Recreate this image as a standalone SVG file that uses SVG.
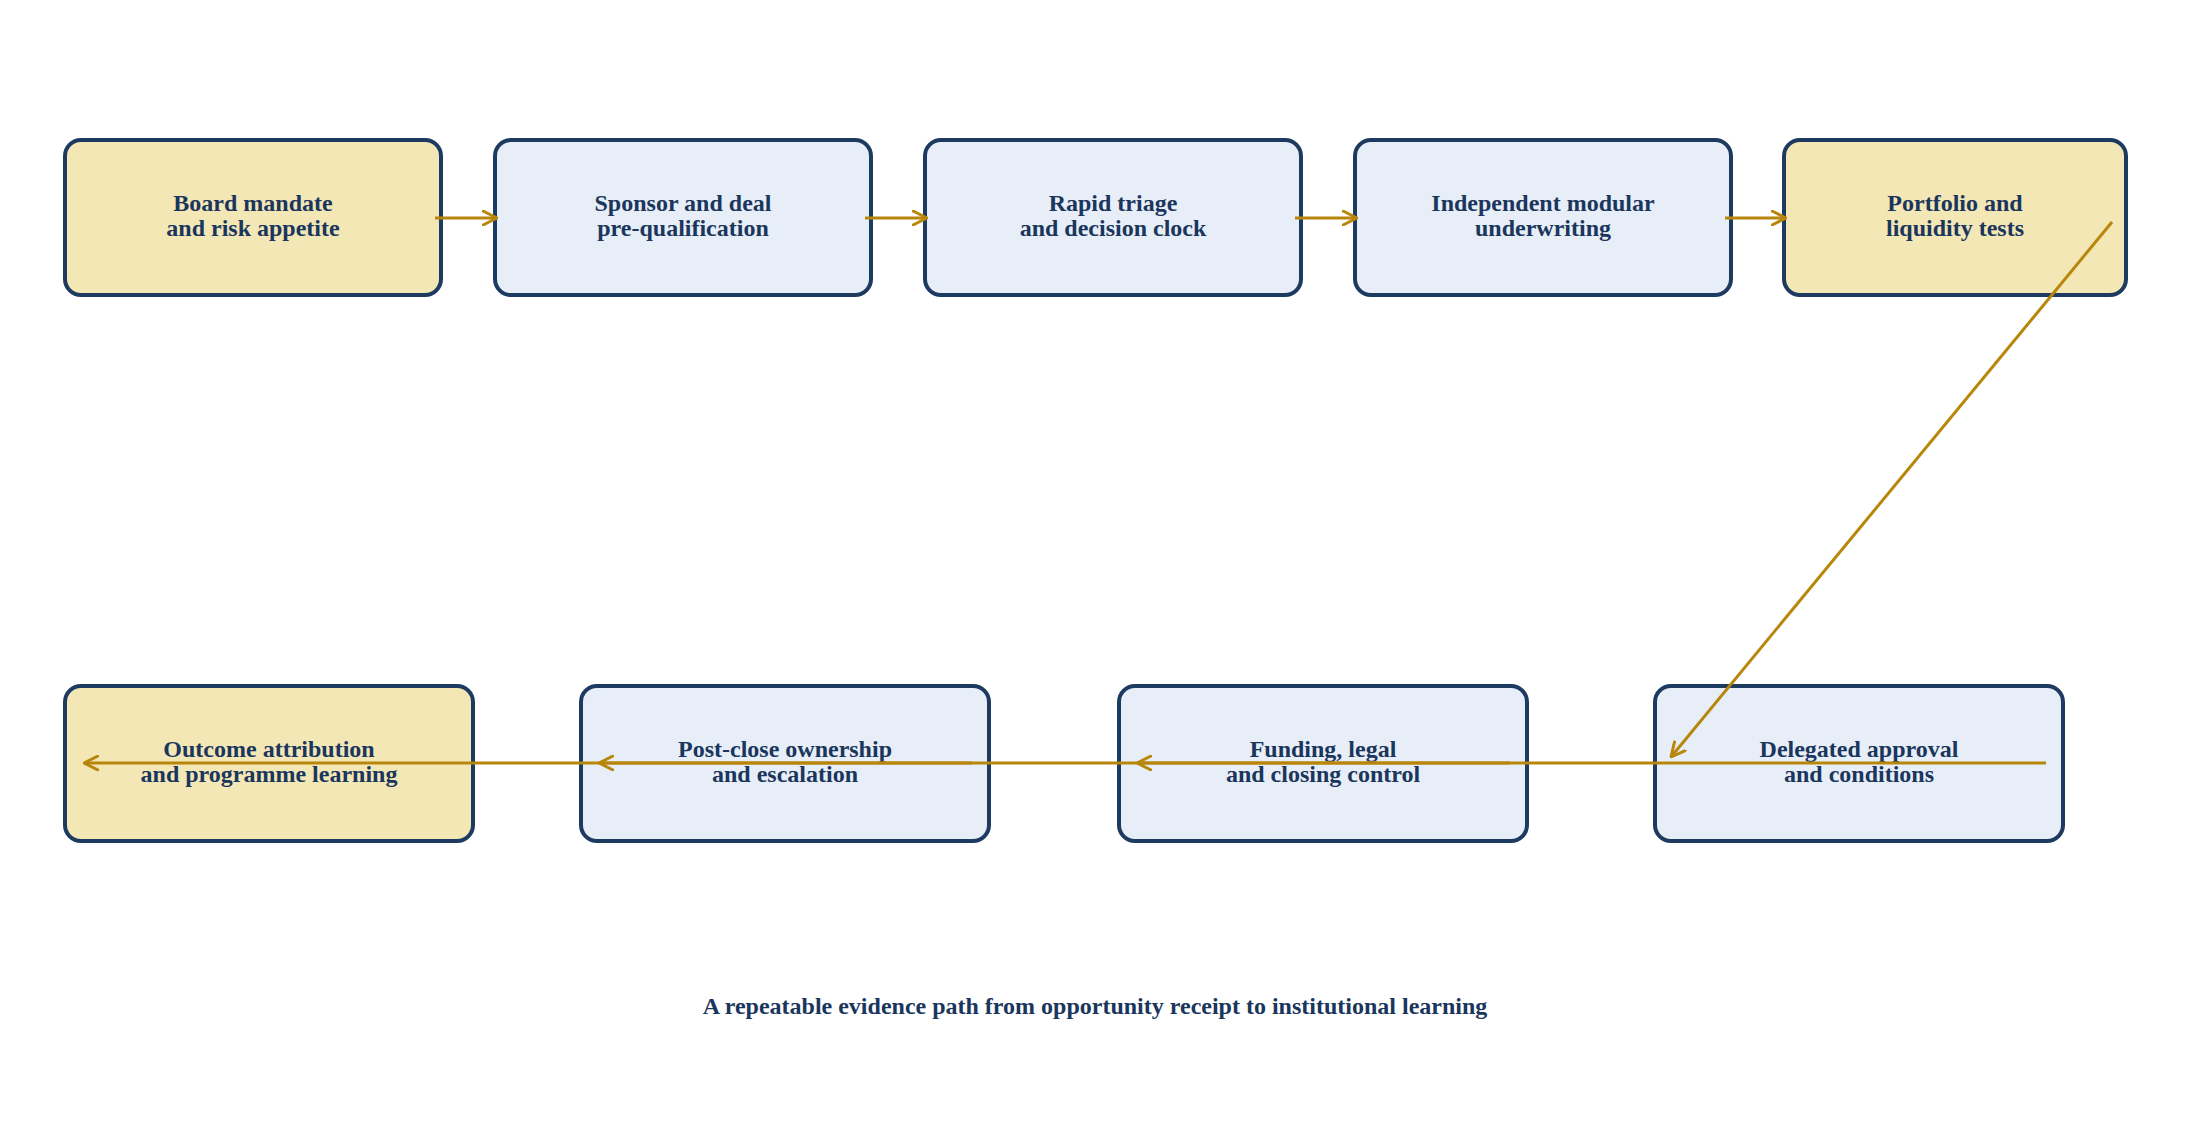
<svg xmlns="http://www.w3.org/2000/svg" width="2191" height="1135" viewBox="0 0 2191 1135">
<style>
.box{stroke:#1d3a60;stroke-width:4}
.blue{fill:#e7eef7}
.gold{fill:#f4e7b6}
.lbl{font-family:"Liberation Serif","Times New Roman",serif;font-weight:bold;font-size:24px;fill:#1b365d;text-anchor:middle}
.edge{stroke:#b8860b;stroke-width:3;fill:none;marker-end:url(#arr)}
</style>
<defs>
<marker id="arr" viewBox="0 0 16 16" refX="15" refY="8" markerWidth="16" markerHeight="16" markerUnits="userSpaceOnUse" orient="auto">
<path d="M1,1 L15,8 L1,15" fill="none" stroke="#b8860b" stroke-width="3" stroke-linecap="round" stroke-linejoin="round"/>
</marker>
</defs>
<rect width="2191" height="1135" fill="#ffffff"/>
<g id="nodes">
<g id="n1"><rect class="box gold" x="65" y="140" width="376" height="155" rx="16"/><text class="lbl" x="253" y="211">Board mandate</text><text class="lbl" x="253" y="236">and risk appetite</text></g>
<g id="n2"><rect class="box blue" x="495" y="140" width="376" height="155" rx="16"/><text class="lbl" x="683" y="211">Sponsor and deal</text><text class="lbl" x="683" y="236">pre-qualification</text></g>
<g id="n3"><rect class="box blue" x="925" y="140" width="376" height="155" rx="16"/><text class="lbl" x="1113" y="211">Rapid triage</text><text class="lbl" x="1113" y="236">and decision clock</text></g>
<g id="n4"><rect class="box blue" x="1355" y="140" width="376" height="155" rx="16"/><text class="lbl" x="1543" y="211">Independent modular</text><text class="lbl" x="1543" y="236">underwriting</text></g>
<g id="n5"><rect class="box gold" x="1784" y="140" width="342" height="155" rx="16"/><text class="lbl" x="1955" y="211">Portfolio and</text><text class="lbl" x="1955" y="236">liquidity tests</text></g>
<g id="n6"><rect class="box gold" x="65" y="686" width="408" height="155" rx="16"/><text class="lbl" x="269" y="757">Outcome attribution</text><text class="lbl" x="269" y="782">and programme learning</text></g>
<g id="n7"><rect class="box blue" x="581" y="686" width="408" height="155" rx="16"/><text class="lbl" x="785" y="757">Post-close ownership</text><text class="lbl" x="785" y="782">and escalation</text></g>
<g id="n8"><rect class="box blue" x="1119" y="686" width="408" height="155" rx="16"/><text class="lbl" x="1323" y="757">Funding, legal</text><text class="lbl" x="1323" y="782">and closing control</text></g>
<g id="n9"><rect class="box blue" x="1655" y="686" width="408" height="155" rx="16"/><text class="lbl" x="1859" y="757">Delegated approval</text><text class="lbl" x="1859" y="782">and conditions</text></g>
</g>
<g id="connectors">
<line class="edge" x1="435" y1="218" x2="497" y2="218"/>
<line class="edge" x1="865" y1="218" x2="927" y2="218"/>
<line class="edge" x1="1295" y1="218" x2="1357" y2="218"/>
<line class="edge" x1="1725" y1="218" x2="1786" y2="218"/>
<line class="edge" x1="2112" y1="222" x2="1671" y2="757"/>
<line class="edge" x1="2046" y1="763" x2="1137" y2="763"/>
<line class="edge" x1="1510" y1="763" x2="599" y2="763"/>
<line class="edge" x1="972" y1="763" x2="84" y2="763"/>
</g>
<text class="lbl" x="1095" y="1014">A repeatable evidence path from opportunity receipt to institutional learning</text>
</svg>
